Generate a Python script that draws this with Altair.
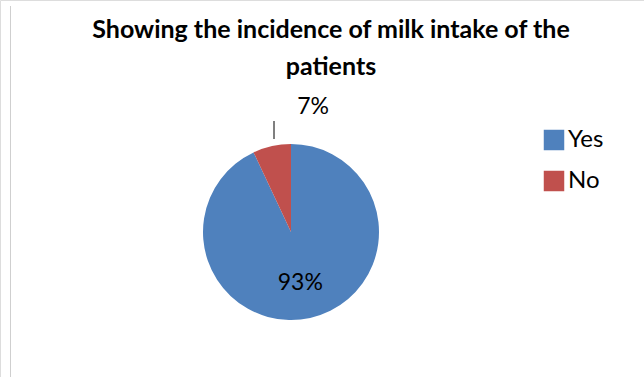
import altair as alt
import pandas as pd

categories = ["Yes", "No"]
values = [93, 7]
labels = ["93%", "7%"]
order_idx = [0, 1]
colors = ["#4F81BD", "#C0504D"]
title_lines = ["Showing the incidence of milk intake of the", "patients"]

df = pd.DataFrame({"answer": categories, "pct": values, "label": labels, "ord": order_idx})
tdf = pd.DataFrame({"line": title_lines, "row": [0, 1]})

CX, CY, R = 291, 232, 88
FONT = "Lato"

base = alt.Chart(df).encode(
    theta=alt.Theta("pct:Q", stack=True),
    order=alt.Order("ord:Q"),
)

pie = base.mark_arc(radius=R, x=CX, y=CY, stroke=None).encode(
    color=alt.Color(
        "answer:N",
        scale=alt.Scale(domain=categories, range=colors),
        sort=categories,
        legend=alt.Legend(
            title=None,
            orient="none",
            legendX=542,
            legendY=128,
            symbolType="square",
            symbolSize=420,
            symbolStrokeWidth=0,
            labelFont=FONT,
            labelFontSize=24,
            labelColor="#000000",
            labelOffset=2,
            rowPadding=17,
            padding=0,
        ),
    )
)

big = base.mark_text(
    radius=52, x=CX, y=CY, font=FONT, fontSize=23, color="#000000", dx=-2
).encode(text=alt.condition(alt.datum.answer == "Yes", "label:N", alt.value("")))

small = base.mark_text(
    radius=128, x=CX, y=CY, font=FONT, fontSize=23, color="#000000", dx=50
).encode(text=alt.condition(alt.datum.answer == "No", "label:N", alt.value("")))

leader = alt.Chart(df.head(1)).mark_rule(color="#000000", strokeWidth=1).encode(
    x=alt.value(274), y=alt.value(121), y2=alt.value(139)
)

border = alt.Chart(df.head(1)).mark_rule(color="#cfcfcf", strokeWidth=1).encode(
    x=alt.value(10.5), y=alt.value(6), y2=alt.value(377)
)

title = alt.Chart(tdf).mark_text(
    font=FONT, fontSize=25, fontWeight="bold", color="#000000", align="center", baseline="alphabetic"
).encode(
    x=alt.value(331),
    y=alt.Y("row:Q", scale=alt.Scale(domain=[0, 1], range=[38, 75]), axis=None),
    text="line:N",
)

chart = alt.layer(border, pie, leader, big, small, title).properties(
    width=644,
    height=377,
    padding=0,
    autosize=alt.AutoSizeParams(type="none"),
).configure_view(stroke=None).configure(background="white")

chart.save("out.html", embed_options={"renderer": "svg", "actions": False})
